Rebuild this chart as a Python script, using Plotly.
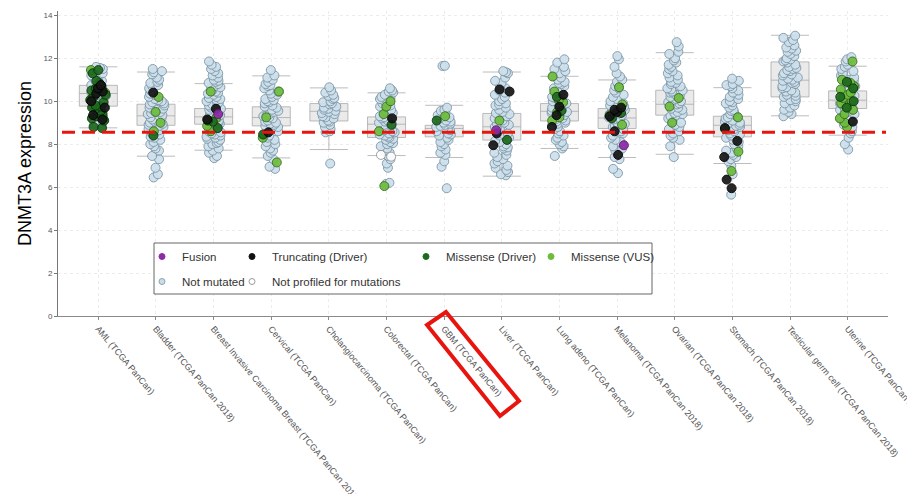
import plotly.graph_objects as go

# ---------------- data ----------------
cat_keys = ["AML", "BLCA", "BRCA", "CESC", "CHOL", "COAD", "GBM", "LIHC",
            "LUAD", "SKCM", "OV", "STAD", "TGCT", "UCEC"]
cat_labels = ["AML (TCGA PanCan)", "Bladder (TCGA PanCan 2018)",
              "Breast Invasive Carcinoma Breast (TCGA PanCan 2018)",
              "Cervical (TCGA PanCan)", "Cholangiocarcinoma (TCGA PanCan)",
              "Colorectal (TCGA PanCan)", "GBM (TCGA PanCan)", "Liver (TCGA PanCan)",
              "Lung adeno (TCGA PanCan)", "Melanoma (TCGA PanCan 2018)",
              "Ovarian (TCGA PanCan 2018)", "Stomach (TCGA PanCan 2018)",
              "Testicular germ cell (TCGA PanCan 2018)", "Uterine (TCGA PanCan 2018)"]

box_q1 = [9.77, 8.88, 8.93, 8.85, 9.08, 8.31, 8.34, 8.19, 9.08, 8.73, 9.35, 8.34, 10.20, 9.66]
box_med = [10.36, 9.32, 9.27, 9.24, 9.53, 8.93, 8.73, 8.81, 9.53, 9.22, 9.86, 8.88, 10.98, 10.05]
box_q3 = [10.74, 9.86, 9.66, 9.74, 9.89, 9.27, 8.88, 9.43, 9.89, 9.66, 10.51, 9.30, 11.83, 10.48]
box_lo = [8.76, 7.44, 7.72, 7.36, 7.75, 7.47, 7.38, 6.51, 7.80, 7.38, 7.53, 7.10, 9.32, 8.42]
box_hi = [11.60, 11.36, 10.82, 11.18, 10.62, 10.39, 9.81, 11.36, 11.16, 10.99, 12.26, 10.63, 13.07, 11.63]

threshold = 8.55

# not mutated samples, per study
nm_aml = [11.6, 11.55, 11.5, 11.4, 11.3, 11.2, 11.1, 11.05, 10.95, 10.9, 10.8, 10.75, 10.7, 10.6,
          10.55, 10.5, 10.45, 10.4, 10.3, 10.25, 10.2, 10.1, 10.0, 9.95, 9.9, 9.8, 9.7, 9.6,
          9.5, 9.4, 9.3, 9.2, 9.1, 8.95, 8.85]
nm_blca = [11.5, 11.4, 11.35, 11.25, 11.1, 11.0, 10.9, 10.85, 10.75, 10.7, 10.6, 10.5, 10.45, 10.35,
           10.3, 10.2, 10.1, 10.05, 10.0, 9.95, 9.9, 9.85, 9.8, 9.7, 9.65, 9.6, 9.55, 9.5, 9.45,
           9.4, 9.35, 9.3, 9.25, 9.2, 9.15, 9.1, 9.05, 9.0, 8.95, 8.9, 8.85, 8.8, 8.7, 8.65, 8.6,
           8.5, 8.45, 8.35, 8.3, 8.2, 8.1, 8.0, 7.9, 7.8, 7.7, 7.45, 7.3, 6.9, 6.6, 6.45]
nm_brca = [11.85, 11.7, 11.6, 11.5, 11.4, 11.3, 11.2, 11.1, 11.0, 10.95, 10.9, 10.85, 10.8, 10.7,
           10.65, 10.6, 10.5, 10.45, 10.4, 10.35, 10.3, 10.2, 10.15, 10.1, 10.05, 10.0, 9.95, 9.9,
           9.85, 9.8, 9.75, 9.7, 9.65, 9.6, 9.55, 9.5, 9.45, 9.4, 9.35, 9.3, 9.27, 9.25, 9.2,
           9.15, 9.1, 9.05, 9.0, 8.98, 8.95, 8.9, 8.85, 8.8, 8.75, 8.7, 8.65, 8.6, 8.55, 8.5,
           8.45, 8.4, 8.35, 8.3, 8.25, 8.2, 8.1, 8.05, 8.0, 7.9, 7.8, 7.7, 7.6, 7.45, 7.35]
nm_cesc = [11.45, 11.2, 11.1, 11.0, 10.9, 10.8, 10.75, 10.7, 10.6, 10.5, 10.45, 10.35, 10.3, 10.2,
           10.1, 10.05, 10.0, 9.95, 9.9, 9.8, 9.75, 9.7, 9.6, 9.55, 9.5, 9.4, 9.35, 9.3, 9.25,
           9.2, 9.1, 9.05, 9.0, 8.95, 8.9, 8.85, 8.8, 8.7, 8.6, 8.5, 8.4, 8.3, 8.2, 8.1, 8.0,
           7.9, 7.8, 7.7, 7.6, 7.45, 7.3, 6.95, 6.85]
nm_chol = [10.65, 10.5, 10.4, 10.3, 10.25, 10.15, 10.1, 10.0, 9.95, 9.9, 9.85, 9.75, 9.7, 9.65,
           9.6, 9.55, 9.5, 9.45, 9.4, 9.3, 9.25, 9.2, 9.1, 9.05, 9.0, 8.9, 8.8, 8.7, 8.6, 8.55, 7.1]
nm_coad = [10.6, 10.5, 10.45, 10.4, 10.3, 10.2, 10.15, 10.1, 10.0, 9.95, 9.9, 9.8, 9.75, 9.7, 9.6,
           9.5, 9.45, 9.4, 9.3, 9.25, 9.2, 9.1, 9.05, 9.0, 8.95, 8.9, 8.85, 8.8, 8.75, 8.7, 8.65,
           8.6, 8.55, 8.5, 8.45, 8.4, 8.35, 8.3, 8.25, 8.2, 8.1, 8.05, 8.0, 7.9, 7.8, 7.7, 7.6,
           7.45, 7.3, 7.1, 6.9, 6.2, 6.15]
nm_gbm = [11.65, 11.64, 9.7, 9.6, 9.55, 9.5, 9.4, 9.35, 9.25, 9.2, 9.1, 9.05, 9.0, 8.95, 8.9, 8.85,
          8.8, 8.75, 8.7, 8.65, 8.6, 8.5, 8.45, 8.4, 8.3, 8.2, 8.1, 8.0, 7.9, 7.75, 7.6, 7.5,
          7.2, 6.95, 5.95]
nm_lihc = [11.4, 11.35, 11.3, 11.1, 10.95, 10.85, 10.7, 10.6, 10.5, 10.4, 10.3, 10.2, 10.1, 10.0,
           9.9, 9.85, 9.8, 9.7, 9.6, 9.5, 9.45, 9.4, 9.3, 9.2, 9.1, 9.0, 8.95, 8.9, 8.8, 8.75,
           8.7, 8.6, 8.5, 8.45, 8.4, 8.3, 8.2, 8.15, 8.1, 8.0, 7.9, 7.85, 7.8, 7.7, 7.6, 7.5,
           7.4, 7.3, 7.2, 7.1, 7.0, 6.9, 6.8, 6.7, 6.6, 6.55]
nm_luad = [11.95, 11.8, 11.6, 11.5, 11.4, 11.3, 11.2, 11.1, 11.0, 10.9, 10.85, 10.8, 10.7, 10.6,
           10.5, 10.45, 10.4, 10.3, 10.2, 10.15, 10.1, 10.0, 9.95, 9.9, 9.85, 9.8, 9.7, 9.65,
           9.6, 9.55, 9.5, 9.45, 9.4, 9.35, 9.3, 9.2, 9.15, 9.1, 9.05, 9.0, 8.95, 8.9, 8.8, 8.7,
           8.6, 8.5, 8.4, 8.3, 8.2, 8.1, 8.0, 7.9, 7.8, 7.45]
nm_skcm = [12.1, 11.95, 11.6, 11.3, 11.15, 11.0, 10.9, 10.8, 10.7, 10.6, 10.5, 10.4, 10.3, 10.2,
           10.1, 10.0, 9.95, 9.9, 9.8, 9.75, 9.7, 9.6, 9.55, 9.5, 9.4, 9.35, 9.3, 9.25, 9.2,
           9.15, 9.1, 9.0, 8.95, 8.9, 8.85, 8.8, 8.7, 8.6, 8.5, 8.4, 8.3, 8.2, 8.1, 8.0, 7.9,
           7.8, 7.7, 7.6, 7.4, 7.3, 6.85, 6.65]
nm_ov = [12.75, 12.55, 12.3, 12.2, 12.0, 11.9, 11.8, 11.7, 11.6, 11.5, 11.4, 11.3, 11.2, 11.1,
         11.0, 10.9, 10.85, 10.8, 10.7, 10.6, 10.55, 10.5, 10.45, 10.4, 10.3, 10.25, 10.2, 10.1,
         10.05, 10.0, 9.95, 9.9, 9.85, 9.8, 9.7, 9.65, 9.6, 9.5, 9.45, 9.4, 9.35, 9.3, 9.2, 9.1,
         9.0, 8.9, 8.8, 8.7, 8.6, 8.5, 8.4, 8.3, 8.2, 7.9, 7.4]
nm_stad = [11.05, 10.95, 10.8, 10.75, 10.7, 10.6, 10.5, 10.4, 10.3, 10.2, 10.1, 10.0, 9.95, 9.9,
           9.8, 9.7, 9.6, 9.55, 9.5, 9.4, 9.3, 9.25, 9.2, 9.1, 9.05, 9.0, 8.95, 8.9, 8.85, 8.8,
           8.7, 8.65, 8.6, 8.5, 8.45, 8.4, 8.3, 8.2, 8.1, 8.0, 7.9, 7.8, 7.7, 7.6, 7.5, 7.4, 7.3,
           7.2, 7.0, 6.6, 5.65]
nm_tgct = [13.05, 12.95, 12.85, 12.75, 12.6, 12.5, 12.45, 12.35, 12.3, 12.2, 12.1, 12.0, 11.95,
           11.9, 11.85, 11.8, 11.7, 11.6, 11.55, 11.5, 11.45, 11.4, 11.3, 11.25, 11.2, 11.1,
           11.05, 11.0, 10.95, 10.9, 10.85, 10.8, 10.7, 10.65, 10.6, 10.5, 10.45, 10.4, 10.3,
           10.25, 10.2, 10.1, 10.05, 10.0, 9.9, 9.8, 9.7, 9.6, 9.5, 9.4, 9.3]
nm_ucec = [12.05, 11.95, 11.85, 11.7, 11.6, 11.5, 11.4, 11.3, 11.2, 11.1, 11.0, 10.95, 10.9, 10.85,
           10.8, 10.7, 10.6, 10.55, 10.5, 10.45, 10.4, 10.3, 10.25, 10.2, 10.1, 10.05, 10.0, 9.95,
           9.9, 9.85, 9.8, 9.7, 9.65, 9.6, 9.55, 9.5, 9.4, 9.3, 9.2, 9.1, 9.0, 8.9, 8.8, 8.7,
           8.6, 8.5, 8.3, 8.0, 7.75]
not_mutated = [nm_aml, nm_blca, nm_brca, nm_cesc, nm_chol, nm_coad, nm_gbm, nm_lihc,
               nm_luad, nm_skcm, nm_ov, nm_stad, nm_tgct, nm_ucec]

# not profiled for mutations
np_cat = ["COAD", "COAD"]
np_val = [7.5, 7.42]

# Missense (VUS)
vus_cat = ["AML"] * 4 + ["BLCA"] * 4 + ["BRCA"] * 4 + ["CESC"] * 4 + ["COAD"] * 5 + ["GBM"] \
    + ["LIHC"] + ["LUAD"] * 7 + ["SKCM"] * 4 + ["OV"] * 3 + ["STAD"] * 4 + ["UCEC"] * 16
vus_val = [11.45, 10.4, 10.2, 9.25,
           10.2, 9.5, 9.0, 8.6,
           10.45, 9.2, 8.85, 8.6,
           10.45, 9.25, 8.3, 7.15,
           10.0, 9.75, 9.4, 8.6, 6.05,
           9.3,
           9.1,
           11.15, 10.45, 10.05, 9.95, 9.5, 9.25, 9.1,
           10.65, 9.85, 9.35, 8.9,
           10.15, 9.75, 9.0,
           9.25, 8.7, 7.65, 6.75,
           11.85, 11.0, 10.85, 10.7, 10.55, 10.4, 10.3, 10.15, 10.0, 9.9, 9.8, 9.6, 9.4, 9.2,
           9.0, 8.8]

# Missense (Driver)
drv_cat = ["AML"] * 25 + ["BLCA", "BRCA", "BRCA", "BRCA", "CESC", "COAD", "GBM", "LIHC",
                          "LUAD", "LUAD", "SKCM", "SKCM"] + ["UCEC"] * 5
drv_val = [11.45, 11.3, 10.95, 10.85, 10.7, 10.65, 10.6, 10.5, 10.4, 10.3, 10.2, 10.05, 9.95,
           9.8, 9.75, 9.7, 9.65, 9.55, 9.45, 9.4, 9.3, 9.2, 9.1, 8.8, 8.75,
           8.4, 9.05, 8.75, 9.1, 8.45, 8.9, 9.1, 8.2, 10.2, 9.55, 9.45, 9.2,
           10.9, 10.6, 10.2, 10.0, 9.7]

# Truncating (Driver)
trc_cat = ["AML"] * 8 + ["BLCA", "BRCA", "BRCA", "CESC", "COAD"] + ["LIHC"] * 4 \
    + ["LUAD"] * 4 + ["SKCM"] * 6 + ["STAD"] * 5 + ["UCEC"]
trc_val = [10.75, 10.6, 10.45, 10.35, 10.0, 9.7, 9.35, 9.15,
           10.4, 9.65, 9.15, 8.55, 9.2,
           10.55, 10.45, 8.5, 7.95,
           10.3, 9.75, 9.35, 8.8,
           9.7, 9.6, 9.5, 9.3, 8.6, 7.5,
           8.75, 8.15, 7.4, 6.35, 5.95,
           9.05]

# Fusion
fus_cat = ["BRCA", "LIHC", "SKCM"]
fus_val = [9.4, 8.65, 7.95]

# ---------------- figure ----------------
lab = dict(zip(cat_keys, cat_labels))
BW = 0.66
JIT = 0.46

fig = go.Figure()

fig.add_trace(go.Box(
    x=cat_labels, q1=box_q1, median=box_med, q3=box_q3,
    lowerfence=box_lo, upperfence=box_hi, boxpoints=False,
    width=BW, whiskerwidth=1, fillcolor="rgba(205,205,205,0.42)",
    line=dict(color="rgba(165,165,165,0.75)", width=1),
    showlegend=False, hoverinfo="skip"))

nm_x, nm_y = [], []
for label, vals in zip(cat_labels, not_mutated):
    nm_x += [label] * len(vals)
    nm_y += vals


def points(xs, ys, fill, edge, name):
    return go.Box(
        x=xs, y=ys, boxpoints="all", jitter=JIT, pointpos=0, width=BW,
        fillcolor="rgba(0,0,0,0)", line=dict(width=0, color="rgba(0,0,0,0)"),
        marker=dict(size=9, color=fill, opacity=0.92, line=dict(color=edge, width=1)),
        showlegend=False, name=name, hoveron="points")


fig.add_trace(points(nm_x, nm_y, "#cde0ec", "#7f98a8", "Not mutated"))
fig.add_trace(points([lab[c] for c in np_cat], np_val, "#ffffff", "#9a9a9a", "Not profiled"))
fig.add_trace(points([lab[c] for c in vus_cat], vus_val, "#6cbd3c", "#3a6d22", "Missense (VUS)"))
fig.add_trace(points([lab[c] for c in drv_cat], drv_val, "#1d6a1d", "#0c340c", "Missense (Driver)"))
fig.add_trace(points([lab[c] for c in trc_cat], trc_val, "#151515", "#000000", "Truncating (Driver)"))
fig.add_trace(points([lab[c] for c in fus_cat], fus_val, "#8e2aa8", "#5a1a6a", "Fusion"))

# legend entries (four column legends)
leg_items = [
    ("Fusion", "#8e2aa8", "#8e2aa8", "legend"),
    ("Not mutated", "#cadeea", "#8aa3b2", "legend"),
    ("Truncating (Driver)", "#111111", "#111111", "legend2"),
    ("Not profiled for mutations", "#ffffff", "#9a9a9a", "legend2"),
    ("Missense (Driver)", "#1d6a1d", "#1d6a1d", "legend3"),
    ("Missense (VUS)", "#6cbd3c", "#6cbd3c", "legend4"),
]
for name, fill, edge, lg in leg_items:
    fig.add_trace(go.Scatter(
        x=[None], y=[None], mode="markers", name=name, legend=lg, legendgroup=name,
        marker=dict(size=6, color=fill, line=dict(color=edge, width=1))))

# geometry (page has an 8px body margin; helpers take reference-picture pixels)
OFF = 8
W, H = 907, 486
L, R, T, B = 50, 27, 3, 178
PW, PH = W - L - R, H - T - B


def px(x):
    return (x - OFF - L) / PW


def py(y):
    return (H - B - (y - OFF)) / PH


leg_font = dict(family="Liberation Sans, Arial, sans-serif", size=11.5, color="#333333")
leg_common = dict(bgcolor="rgba(0,0,0,0)", borderwidth=0, font=leg_font,
                  xanchor="left", yanchor="top", tracegroupgap=6, orientation="v")

fig.update_layout(
    width=W, height=H,
    margin=dict(l=L, r=R, t=T, b=B),
    paper_bgcolor="white", plot_bgcolor="white",
    boxmode="overlay",
    font=dict(family="Liberation Sans, Arial, sans-serif", color="#444444"),
    legend=dict(x=px(142), y=py(242), **leg_common),
    legend2=dict(x=px(232), y=py(242), **leg_common),
    legend3=dict(x=px(406), y=py(242), **leg_common),
    legend4=dict(x=px(531), y=py(242), **leg_common),
    xaxis=dict(
        type="category", categoryorder="array", categoryarray=cat_labels,
        range=[-0.7, 13.7], tickangle=50,
        tickfont=dict(size=9, color="#555555"),
        showline=True, linecolor="#8a8a8a", linewidth=1,
        ticks="outside", ticklen=3, tickcolor="#8a8a8a",
        showgrid=True, gridcolor="#ececec", griddash="dot", gridwidth=1,
        zeroline=False, automargin=False),
    yaxis=dict(
        range=[0, 14.2], tickvals=[0, 2, 4, 6, 8, 10, 12, 14],
        tickfont=dict(size=8, color="#555555"),
        showline=True, linecolor="#777777", linewidth=1,
        ticks="outside", ticklen=3, tickcolor="#777777",
        showgrid=True, gridcolor="#ececec", griddash="dot", gridwidth=1,
        zeroline=False, automargin=False,
        title=dict(text="DNMT3A expression", standoff=7,
                   font=dict(size=18, color="#000000",
                             family="Liberation Sans, Arial, sans-serif"))),
    shapes=[
        dict(type="line", xref="paper", yref="y", x0=px(62), x1=px(886),
             y0=threshold, y1=threshold,
             line=dict(color="#e8150f", width=3, dash="13px,7px"), layer="above"),
        dict(type="rect", xref="paper", yref="paper", x0=px(154), x1=px(652),
             y0=py(294), y1=py(243), fillcolor="white",
             line=dict(color="#666666", width=1), layer="above"),
        dict(type="path", xref="paper", yref="paper",
             path="M {:.4f},{:.4f} L {:.4f},{:.4f} L {:.4f},{:.4f} L {:.4f},{:.4f} Z".format(
                 px(446), py(312), px(519), py(401), px(500), py(416), px(427), py(325)),
             line=dict(color="#e8150f", width=4), fillcolor="rgba(0,0,0,0)", layer="above"),
    ],
)

fig.write_html("out.html")
